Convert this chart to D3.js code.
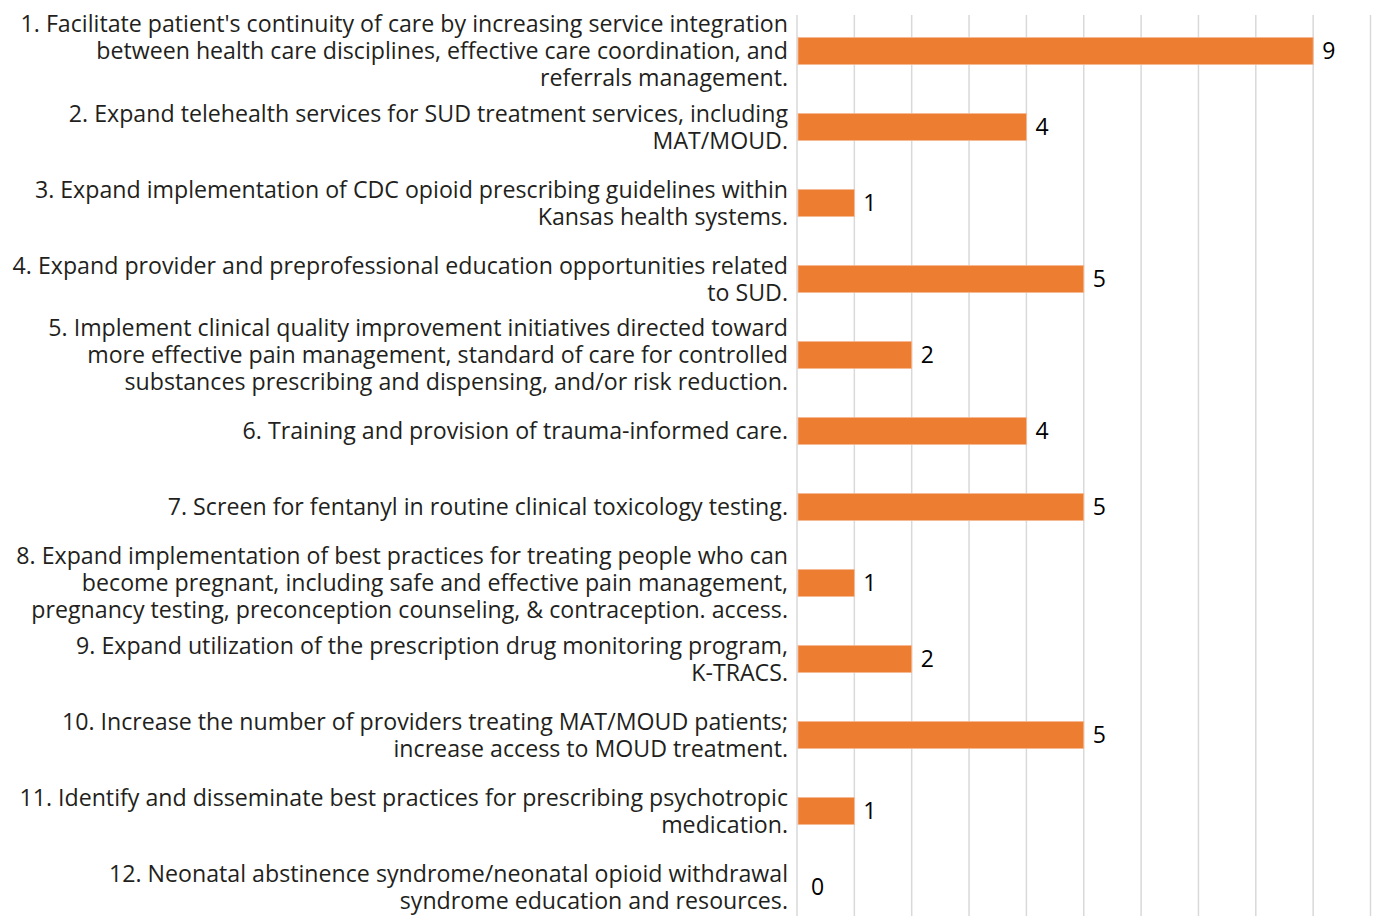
<!DOCTYPE html>
<html>
<head>
<meta charset="utf-8">
<script src="https://cdn.jsdelivr.net/npm/d3@7"></script>
<style>
  body { margin: 0; background: #fff; }
  text { font-family: "Open Sans", sans-serif; }
</style>
</head>
<body>
<script>
// chart size
var width = 1374,
    height = 916;

// strategy labels, one entry per line of text
var labels = [
  ["1. Facilitate patient's continuity of care by increasing service integration",
   "between health care disciplines, effective care coordination, and",
   "referrals management."],
  ["2. Expand telehealth services for SUD treatment services, including",
   "MAT/MOUD."],
  ["3. Expand implementation of CDC opioid prescribing guidelines within",
   "Kansas health systems."],
  ["4. Expand provider and preprofessional education opportunities related",
   "to SUD."],
  ["5. Implement clinical quality improvement initiatives directed toward",
   "more effective pain management, standard of care for controlled",
   "substances prescribing and dispensing, and/or risk reduction."],
  ["6. Training and provision of trauma-informed care."],
  ["7. Screen for fentanyl in routine clinical toxicology testing."],
  ["8. Expand implementation of best practices for treating people who can",
   "become pregnant, including safe and effective pain management,",
   "pregnancy testing, preconception counseling, & contraception. access."],
  ["9. Expand utilization of the prescription drug monitoring program,",
   "K-TRACS."],
  ["10. Increase the number of providers treating MAT/MOUD patients;",
   "increase access to MOUD treatment."],
  ["11. Identify and disseminate best practices for prescribing psychotropic",
   "medication."],
  ["12. Neonatal abstinence syndrome/neonatal opioid withdrawal",
   "syndrome education and resources."]
];

// counts
var counts = [9, 4, 1, 5, 2, 4, 5, 1, 2, 5, 1, 0];

// gridline values
var gridTicks = [0, 1, 2, 3, 4, 5, 6, 7, 8, 9, 10];

var svg = d3.select("body").append("svg")
    .attr("width", width)
    .attr("height", height);

var x = d3.scaleLinear()
    .domain([0, 10])
    .range([797, 1370.5]);

var y = d3.scaleBand()
    .domain(d3.range(counts.length))
    .range([13, 925])
    .paddingInner(0.645)
    .paddingOuter(0.3225);

// vertical gridlines
svg.append("g")
    .selectAll("line")
    .data(gridTicks)
    .enter().append("line")
    .attr("x1", function(d) { return x(d); })
    .attr("x2", function(d) { return x(d); })
    .attr("y1", 15)
    .attr("y2", height)
    .style("stroke", "#d9d9d9")
    .style("stroke-width", 1.5);

// bars
svg.append("g")
    .selectAll("rect")
    .data(counts)
    .enter().append("rect")
    .attr("x", x(0) + 1)
    .attr("y", function(d, i) { return y(i); })
    .attr("width", function(d) { return Math.max(0, x(d) - x(0) - 1); })
    .attr("height", y.bandwidth())
    .style("fill", "#ed7d31")
    .style("stroke", "#f6b891")
    .style("stroke-width", 0.8);

// value labels
svg.append("g")
    .selectAll("text")
    .data(counts)
    .enter().append("text")
    .attr("x", function(d) { return x(d) + (d === 0 ? 14 : 9); })
    .attr("y", function(d, i) { return y(i) + y.bandwidth() / 2; })
    .attr("dy", "0.36em")
    .style("font-size", "23px")
    .style("fill", "#000")
    .text(function(d) { return d; });

// category labels, right aligned
var lineH = 27;
var labelG = svg.append("g");
labels.forEach(function(lines, i) {
  var cy = y(i) + y.bandwidth() / 2;
  var top = cy - (lines.length - 1) * lineH / 2;
  lines.forEach(function(t, j) {
    labelG.append("text")
      .attr("class", "cat")
      .attr("transform", "translate(788," + (top + j * lineH) + ")")
      .attr("text-anchor", "end")
      .attr("dy", "0.36em")
      .style("font-size", "23px")
      .style("fill", "#231f20")
      .text(t);
  });
});

// squeeze labels horizontally so the longest line fits like the original
var widest = d3.max(labelG.selectAll("text.cat").nodes(), function(n) { return n.getComputedTextLength(); });
var k = 776 / widest;
labelG.selectAll("text.cat").each(function() {
  var el = d3.select(this);
  el.attr("transform", el.attr("transform") + " scale(" + k + ",1)");
});
</script>
</body>
</html>
